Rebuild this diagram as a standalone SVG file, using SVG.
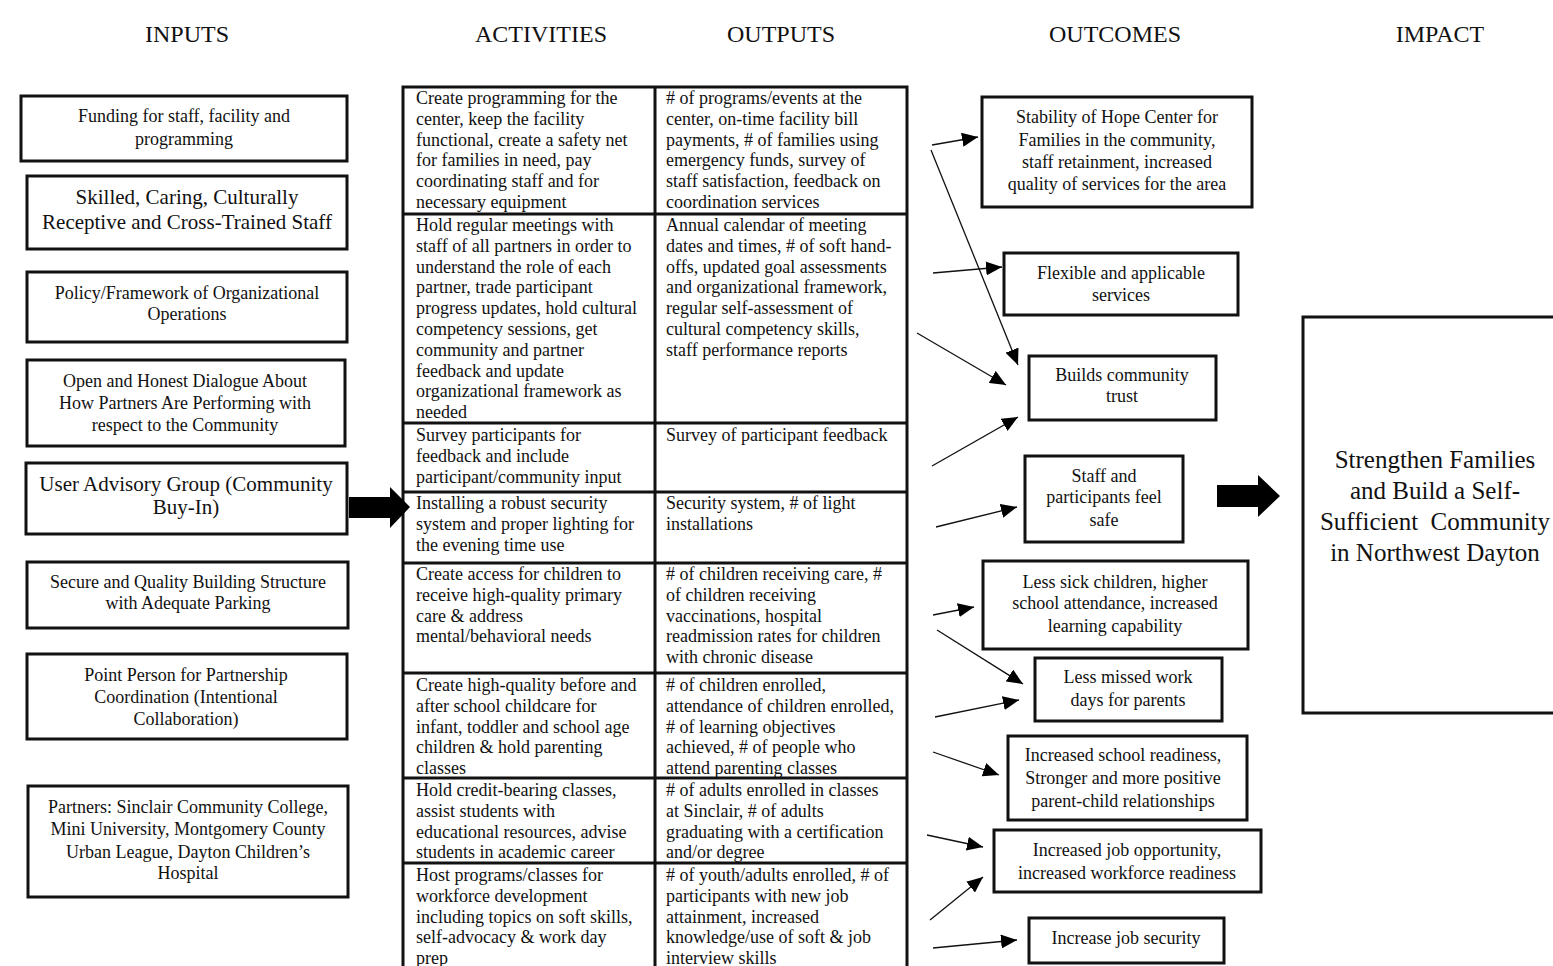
<svg xmlns="http://www.w3.org/2000/svg" width="1553" height="966" viewBox="0 0 1553 966" font-family="'Liberation Serif', Tinos, 'Times New Roman', 'DejaVu Serif', serif">
<style>
text{font-family:'Liberation Serif', Tinos, 'Times New Roman', 'DejaVu Serif', serif;fill:#111}
.h{font-size:24px;text-anchor:middle}
.box{fill:#fff;stroke:#111;stroke-width:3}
.c{text-anchor:middle;font-size:18px}
.c21{text-anchor:middle;font-size:21px}
.t{font-size:18px}
.imp{text-anchor:middle;font-size:25px}
.tl{stroke:#111;stroke-width:3;fill:none}
.ar{stroke:#111;stroke-width:1.3;fill:none;marker-end:url(#ah)}
.big{fill:#000}
</style>
<defs>
<marker id="ah" markerUnits="userSpaceOnUse" markerWidth="18" markerHeight="14" refX="16" refY="7" orient="auto">
<path d="M0,0 L16,7 L0,14 Z" fill="#000"/>
</marker>
</defs>
<rect width="1553" height="966" fill="#fff"/>
<g id="headers">
<text class="h" x="187" y="42">INPUTS</text>
<text class="h" x="541" y="42">ACTIVITIES</text>
<text class="h" x="781" y="42">OUTPUTS</text>
<text class="h" x="1115" y="42">OUTCOMES</text>
<text class="h" x="1440" y="42">IMPACT</text>
</g>
<g id="in1"><rect class="box" x="21" y="96" width="326" height="65"/>
<text class="c" x="184" y="122">Funding for staff, facility and</text><text class="c" x="184" y="145">programming</text></g>
<g id="in2"><rect class="box" x="27" y="176" width="320" height="73"/>
<text class="c21" x="187" y="204">Skilled, Caring, Culturally</text><text class="c21" x="187" y="229">Receptive and Cross-Trained Staff</text></g>
<g id="in3"><rect class="box" x="27" y="272" width="320" height="70"/>
<text class="c" x="187" y="299">Policy/Framework of Organizational</text><text class="c" x="187" y="320">Operations</text></g>
<g id="in4"><rect class="box" x="27" y="360" width="318" height="86"/>
<text class="c" x="185" y="387">Open and Honest Dialogue About</text><text class="c" x="185" y="409">How Partners Are Performing with</text><text class="c" x="185" y="431">respect to the Community</text></g>
<g id="in5"><rect class="box" x="26" y="463" width="321" height="71"/>
<text class="c21" x="186" y="491">User Advisory Group (Community</text><text class="c21" x="186" y="514">Buy-In)</text></g>
<g id="in6"><rect class="box" x="27" y="562" width="321" height="66"/>
<text class="c" x="188" y="588">Secure and Quality Building Structure</text><text class="c" x="188" y="609">with Adequate Parking</text></g>
<g id="in7"><rect class="box" x="27" y="654" width="320" height="85"/>
<text class="c" x="186" y="681">Point Person for Partnership</text><text class="c" x="186" y="703">Coordination (Intentional</text><text class="c" x="186" y="725">Collaboration)</text></g>
<g id="in8"><rect class="box" x="28" y="786" width="320" height="111"/>
<text class="c" x="188" y="813">Partners: Sinclair Community College,</text><text class="c" x="188" y="835">Mini University, Montgomery County</text><text class="c" x="188" y="858">Urban League, Dayton Children’s</text><text class="c" x="188" y="879">Hospital</text></g>

<g id="table">
<rect class="tl" x="403" y="87" width="504" height="900"/>
<line class="tl" x1="655" y1="87" x2="655" y2="980"/>
<line class="tl" x1="403" y1="214" x2="907" y2="214"/>
<line class="tl" x1="403" y1="423" x2="907" y2="423"/>
<line class="tl" x1="403" y1="492" x2="907" y2="492"/>
<line class="tl" x1="403" y1="563" x2="907" y2="563"/>
<line class="tl" x1="403" y1="673" x2="907" y2="673"/>
<line class="tl" x1="403" y1="778" x2="907" y2="778"/>
<line class="tl" x1="403" y1="863" x2="907" y2="863"/>
</g>
<g id="act1"><text class="t" y="104"><tspan x="416">Create programming for the</tspan><tspan x="416" dy="20.8">center, keep the facility</tspan><tspan x="416" dy="20.8">functional, create a safety net</tspan><tspan x="416" dy="20.8">for families in need, pay</tspan><tspan x="416" dy="20.8">coordinating staff and for</tspan><tspan x="416" dy="20.8">necessary equipment</tspan></text></g>
<g id="out1"><text class="t" y="104"><tspan x="666"># of programs/events at the</tspan><tspan x="666" dy="20.8">center, on-time facility bill</tspan><tspan x="666" dy="20.8">payments, # of families using</tspan><tspan x="666" dy="20.8">emergency funds, survey of</tspan><tspan x="666" dy="20.8">staff satisfaction, feedback on</tspan><tspan x="666" dy="20.8">coordination services</tspan></text></g>
<g id="act2"><text class="t" y="231"><tspan x="416">Hold regular meetings with</tspan><tspan x="416" dy="20.8">staff of all partners in order to</tspan><tspan x="416" dy="20.8">understand the role of each</tspan><tspan x="416" dy="20.8">partner, trade participant</tspan><tspan x="416" dy="20.8">progress updates, hold cultural</tspan><tspan x="416" dy="20.8">competency sessions, get</tspan><tspan x="416" dy="20.8">community and partner</tspan><tspan x="416" dy="20.8">feedback and update</tspan><tspan x="416" dy="20.8">organizational framework as</tspan><tspan x="416" dy="20.8">needed</tspan></text></g>
<g id="out2"><text class="t" y="231"><tspan x="666">Annual calendar of meeting</tspan><tspan x="666" dy="20.8">dates and times, # of soft hand-</tspan><tspan x="666" dy="20.8">offs, updated goal assessments</tspan><tspan x="666" dy="20.8">and organizational framework,</tspan><tspan x="666" dy="20.8">regular self-assessment of</tspan><tspan x="666" dy="20.8">cultural competency skills,</tspan><tspan x="666" dy="20.8">staff performance reports</tspan></text></g>
<g id="act3"><text class="t" y="441"><tspan x="416">Survey participants for</tspan><tspan x="416" dy="20.8">feedback and include</tspan><tspan x="416" dy="20.8">participant/community input</tspan></text></g>
<g id="out3"><text class="t" y="441"><tspan x="666">Survey of participant feedback</tspan></text></g>
<g id="act4"><text class="t" y="509"><tspan x="416">Installing a robust security</tspan><tspan x="416" dy="20.8">system and proper lighting for</tspan><tspan x="416" dy="20.8">the evening time use</tspan></text></g>
<g id="out4"><text class="t" y="509"><tspan x="666">Security system, # of light</tspan><tspan x="666" dy="20.8">installations</tspan></text></g>
<g id="act5"><text class="t" y="580"><tspan x="416">Create access for children to</tspan><tspan x="416" dy="20.8">receive high-quality primary</tspan><tspan x="416" dy="20.8">care &amp; address</tspan><tspan x="416" dy="20.8">mental/behavioral needs</tspan></text></g>
<g id="out5"><text class="t" y="580"><tspan x="666"># of children receiving care, #</tspan><tspan x="666" dy="20.8">of children receiving</tspan><tspan x="666" dy="20.8">vaccinations, hospital</tspan><tspan x="666" dy="20.8">readmission rates for children</tspan><tspan x="666" dy="20.8">with chronic disease</tspan></text></g>
<g id="act6"><text class="t" y="691"><tspan x="416">Create high-quality before and</tspan><tspan x="416" dy="20.8">after school childcare for</tspan><tspan x="416" dy="20.8">infant, toddler and school age</tspan><tspan x="416" dy="20.8">children &amp; hold parenting</tspan><tspan x="416" dy="20.8">classes</tspan></text></g>
<g id="out6"><text class="t" y="691"><tspan x="666"># of children enrolled,</tspan><tspan x="666" dy="20.8">attendance of children enrolled,</tspan><tspan x="666" dy="20.8"># of learning objectives</tspan><tspan x="666" dy="20.8">achieved, # of people who</tspan><tspan x="666" dy="20.8">attend parenting classes</tspan></text></g>
<g id="act7"><text class="t" y="796"><tspan x="416">Hold credit-bearing classes,</tspan><tspan x="416" dy="20.8">assist students with</tspan><tspan x="416" dy="20.8">educational resources, advise</tspan><tspan x="416" dy="20.8">students in academic career</tspan></text></g>
<g id="out7"><text class="t" y="796"><tspan x="666"># of adults enrolled in classes</tspan><tspan x="666" dy="20.8">at Sinclair, # of adults</tspan><tspan x="666" dy="20.8">graduating with a certification</tspan><tspan x="666" dy="20.8">and/or degree</tspan></text></g>
<g id="act8"><text class="t" y="881"><tspan x="416">Host programs/classes for</tspan><tspan x="416" dy="20.8">workforce development</tspan><tspan x="416" dy="20.8">including topics on soft skills,</tspan><tspan x="416" dy="20.8">self-advocacy &amp; work day</tspan><tspan x="416" dy="20.8">prep</tspan></text></g>
<g id="out8"><text class="t" y="881"><tspan x="666"># of youth/adults enrolled, # of</tspan><tspan x="666" dy="20.8">participants with new job</tspan><tspan x="666" dy="20.8">attainment, increased</tspan><tspan x="666" dy="20.8">knowledge/use of soft &amp; job</tspan><tspan x="666" dy="20.8">interview skills</tspan></text></g>

<g id="oc1"><rect class="box" x="982" y="97" width="270" height="110"/>
<text class="c" x="1117" y="123">Stability of Hope Center for</text><text class="c" x="1117" y="146">Families in the community,</text><text class="c" x="1117" y="168">staff retainment, increased</text><text class="c" x="1117" y="190">quality of services for the area</text></g>
<g id="oc2"><rect class="box" x="1004" y="253" width="234" height="62"/>
<text class="c" x="1121" y="279">Flexible and applicable</text><text class="c" x="1121" y="301">services</text></g>
<g id="oc3"><rect class="box" x="1029" y="356" width="187" height="64"/>
<text class="c" x="1122" y="381">Builds community</text><text class="c" x="1122" y="402">trust</text></g>
<g id="oc4"><rect class="box" x="1025" y="456" width="158" height="86"/>
<text class="c" x="1104" y="482">Staff and</text><text class="c" x="1104" y="503">participants feel</text><text class="c" x="1104" y="526">safe</text></g>
<g id="oc5"><rect class="box" x="983" y="561" width="265" height="88"/>
<text class="c" x="1115" y="588">Less sick children, higher</text><text class="c" x="1115" y="609">school attendance, increased</text><text class="c" x="1115" y="632">learning capability</text></g>
<g id="oc6"><rect class="box" x="1035" y="658" width="187" height="63"/>
<text class="c" x="1128" y="683">Less missed work</text><text class="c" x="1128" y="706">days for parents</text></g>
<g id="oc7"><rect class="box" x="1008" y="736" width="239" height="84"/>
<text class="c" x="1123" y="761">Increased school readiness,</text><text class="c" x="1123" y="784">Stronger and more positive</text><text class="c" x="1123" y="807">parent-child relationships</text></g>
<g id="oc8"><rect class="box" x="994" y="830" width="267" height="62"/>
<text class="c" x="1127" y="856">Increased job opportunity,</text><text class="c" x="1127" y="879">increased workforce readiness</text></g>
<g id="oc9"><rect class="box" x="1029" y="918" width="195" height="45"/>
<text class="c" x="1126" y="944">Increase job security</text></g>

<g id="impact"><rect class="box" x="1303" y="317" width="270" height="396"/>
<text class="imp" x="1435" y="468">Strengthen Families</text><text class="imp" x="1435" y="499">and Build a Self-</text><text class="imp" x="1435" y="530">Sufficient&#160; Community</text><text class="imp" x="1435" y="561">in Northwest Dayton</text></g>

<g id="connectors">
<path class="big" d="M349,497 L390,497 L390,487 L410,507 L390,528 L390,518 L349,518 Z"/>
<path class="big" d="M1217,485 L1258,485 L1258,475 L1280,496 L1258,517 L1258,507 L1217,507 Z"/>
<line class="ar" x1="932" y1="145" x2="978" y2="137"/>
<line class="ar" x1="931" y1="150" x2="1018" y2="365"/>
<line class="ar" x1="933" y1="273" x2="1002" y2="267"/>
<line class="ar" x1="917" y1="333" x2="1006" y2="385"/>
<line class="ar" x1="932" y1="466" x2="1018" y2="417"/>
<line class="ar" x1="936" y1="527" x2="1017" y2="507"/>
<line class="ar" x1="933" y1="615" x2="974" y2="607"/>
<line class="ar" x1="937" y1="630" x2="1023" y2="684"/>
<line class="ar" x1="935" y1="717" x2="1019" y2="700"/>
<line class="ar" x1="933" y1="752" x2="999" y2="775"/>
<line class="ar" x1="927" y1="835" x2="983" y2="847"/>
<line class="ar" x1="930" y1="920" x2="983" y2="877"/>
<line class="ar" x1="933" y1="948" x2="1017" y2="940"/>
</g>
</svg>
